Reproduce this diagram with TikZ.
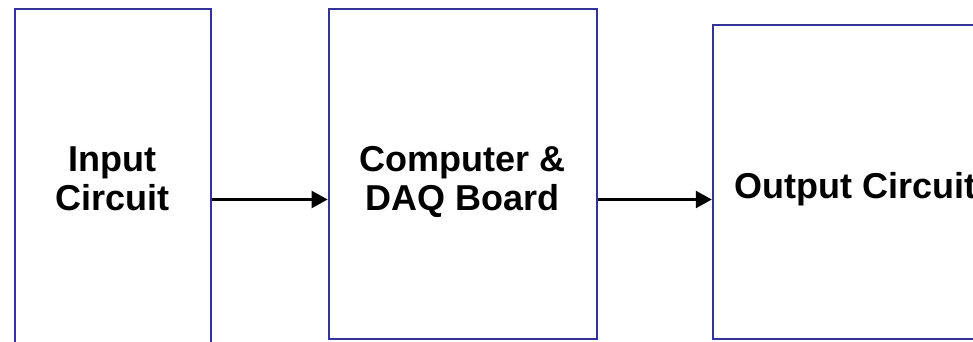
\documentclass[tikz,border=0pt]{standalone}
\usepackage{fontspec}
\setmainfont{Liberation Sans}
\usetikzlibrary{arrows.meta}

\definecolor{boxblue}{RGB}{51,51,153}

\tikzset{
  blockbox/.style={draw=boxblue, line width=1.5pt, rectangle, inner sep=0pt},
  blocktext/.style={align=center, font=\fontsize{27}{29.5}\selectfont\bfseries, inner sep=0pt},
  flowarrow/.style={draw=black, line width=2.4pt,
    -{Triangle[length=12pt,width=12.5pt]}}
}

\begin{document}
\begin{tikzpicture}[x=0.75pt,y=0.75pt,yscale=-1,xscale=1]
    %set diagram to 973 x 342
    \clip (0,0) rectangle (973,342);
    %Shape: Rectangle [id:input]
    \node[blockbox, minimum width=147pt, minimum height=258pt] (input) at (112.7,181) {};
    %Shape: Rectangle [id:daq]
    \node[blockbox, minimum width=201pt, minimum height=247.5pt] (daq) at (462.7,174) {};
    %Shape: Rectangle [id:output]
    \node[blockbox, minimum width=213.75pt, minimum height=235.5pt] (output) at (855.4,182) {};
    % Text Node
    \node[blocktext] (inputtext) at (112.7,179) {Input\\Circuit};
    % Text Node
    \node[blocktext] (daqtext) at (462.7,182) {Computer \&\\DAQ Board};
    % Text Node
    \node[blocktext] (outputtext) at (855.4,189) {Output Circuit};
    % height of the arrows
    \coordinate (level) at (0,199.5);
    %Straight Lines [id:input-daq]
    \draw[flowarrow] (input.east |- level) -- (daq.west |- level);
    %Straight Lines [id:daq-output]
    \draw[flowarrow] (daq.east |- level) -- (output.west |- level);
\end{tikzpicture}
\end{document}
